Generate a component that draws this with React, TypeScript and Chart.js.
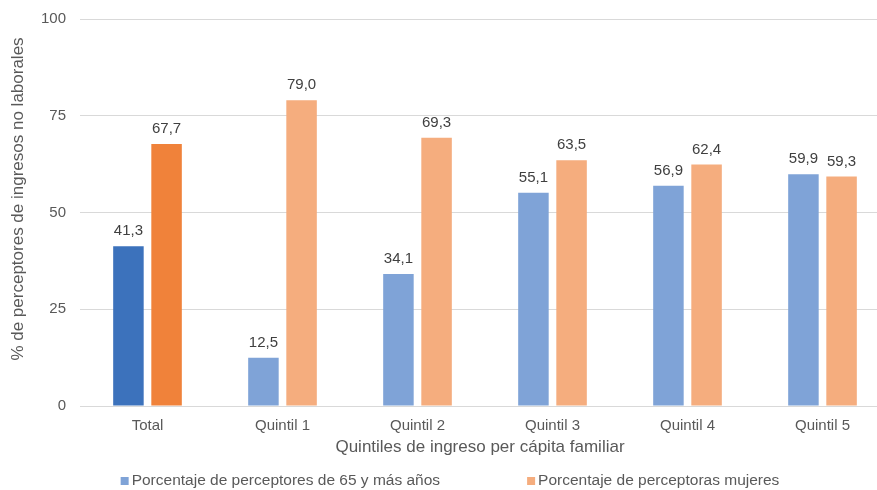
import React, { useEffect, useRef } from "react";
import { Chart, registerables } from "chart.js";

Chart.register(...registerables);

const categories = ["Total", "Quintil 1", "Quintil 2", "Quintil 3", "Quintil 4", "Quintil 5"];
const mayores65 = [41.3, 12.5, 34.1, 55.1, 56.9, 59.9];
const mujeres = [67.7, 79.0, 69.3, 63.5, 62.4, 59.3];
const seriesNames = ["Porcentaje de perceptores de 65 y más años", "Porcentaje de perceptoras mujeres"];
const yTicks = [0, 25, 50, 75, 100];
const xTitle = "Quintiles de ingreso per cápita familiar";
const yTitle = "% de perceptores de ingresos no laborales";

const FONT = "'Liberation Sans', Arial, sans-serif";
const BLUE_DARK = "#3C72BC";
const ORANGE_DARK = "#F0823A";
const BLUE = "#7FA3D7";
const ORANGE = "#F5AD7E";
const TEXT = "#595959";

const dataLabels = {
  id: "dataLabels",
  afterDatasetsDraw(chart: any) {
    const ctx = chart.ctx;
    ctx.save();
    ctx.font = `15px ${FONT}`;
    ctx.fillStyle = "#404040";
    ctx.textAlign = "center";
    ctx.textBaseline = "alphabetic";
    chart.data.datasets.forEach((ds: any, i: number) => {
      const meta = chart.getDatasetMeta(i);
      meta.data.forEach((bar: any, j: number) => {
        const v = ds.data[j] as number;
        ctx.fillText(v.toFixed(1).replace(".", ","), bar.x, bar.y - 11);
      });
    });
    ctx.restore();
  },
};

const titlesAndLegend = {
  id: "titlesAndLegend",
  afterDraw(chart: any) {
    const ctx = chart.ctx;
    ctx.save();
    ctx.fillStyle = TEXT;
    ctx.font = `17px ${FONT}`;
    ctx.textAlign = "center";
    ctx.textBaseline = "middle";
    ctx.fillText(xTitle, 480, 447);
    ctx.save();
    ctx.translate(18, 199);
    ctx.rotate(-Math.PI / 2);
    ctx.fillText(yTitle, 0, 0);
    ctx.restore();
    ctx.font = `15.5px ${FONT}`;
    const box = 8;
    const gapBoxText = 3;
    const itemGap = 87;
    const colors = [BLUE, ORANGE];
    const widths = seriesNames.map((t) => box + gapBoxText + ctx.measureText(t).width);
    const total = widths[0] + widths[1] + itemGap;
    let x = 450 - total / 2;
    const y = 481;
    ctx.textAlign = "left";
    seriesNames.forEach((t, i) => {
      ctx.fillStyle = colors[i];
      ctx.fillRect(x, y - 4, box, box);
      ctx.fillStyle = TEXT;
      ctx.fillText(t, x + box + gapBoxText, y);
      x += widths[i] + itemGap;
    });
    ctx.restore();
  },
};

export default function App() {
  const ref = useRef<HTMLCanvasElement>(null);
  useEffect(() => {
    if (!ref.current) return;
    const chart = new Chart(ref.current, {
      type: "bar",
      data: {
        labels: categories,
        datasets: [
          {
            label: seriesNames[0],
            data: mayores65,
            backgroundColor: categories.map((_, i) => (i === 0 ? BLUE_DARK : BLUE)),
            barPercentage: 0.8,
            categoryPercentage: 0.565,
          },
          {
            label: seriesNames[1],
            data: mujeres,
            backgroundColor: categories.map((_, i) => (i === 0 ? ORANGE_DARK : ORANGE)),
            barPercentage: 0.8,
            categoryPercentage: 0.565,
          },
        ],
      },
      options: {
        animation: false,
        responsive: true,
        maintainAspectRatio: false,
        layout: { padding: { top: 19, left: 8, right: 0, bottom: 44 } },
        plugins: {
          tooltip: { enabled: false },
          legend: { display: false },
        },
        scales: {
          x: {
            grid: { display: false, drawTicks: false },
            border: { display: true, color: "#d9d9d9", width: 1 },
            ticks: { font: { family: FONT, size: 15 }, color: TEXT, padding: 11 },
          },
          y: {
            min: 0,
            max: 100,
            afterBuildTicks: (scale: any) => {
              scale.ticks = yTicks.map((v) => ({ value: v }));
            },
            afterFit: (scale: any) => {
              scale.width = 72;
              scale.paddingTop = 0;
              scale.paddingBottom = 0;
            },
            grid: { color: "#d9d9d9", drawTicks: false },
            border: { display: false },
            ticks: { font: { family: FONT, size: 15 }, color: TEXT, padding: 14 },
          },
        },
      },
      plugins: [dataLabels, titlesAndLegend],
    });
    return () => chart.destroy();
  }, []);

  return (
    <div style={{ position: "fixed", left: 0, top: 0, width: 877, height: 490, overflow: "hidden", background: "#fff" }}>
      <div style={{ width: 890, height: 490 }}>
        <canvas ref={ref} />
      </div>
    </div>
  );
}
